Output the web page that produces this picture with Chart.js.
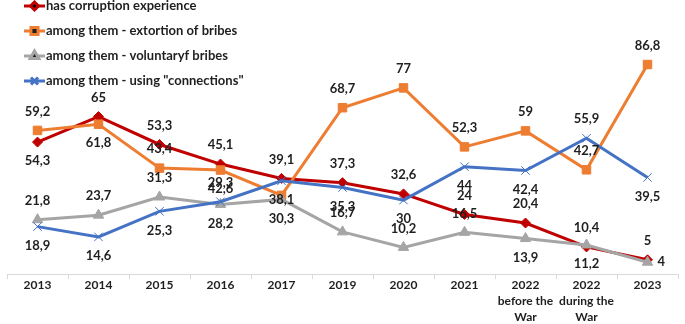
<!DOCTYPE html>
<html>
<head>
<meta charset="utf-8">
<script src="https://cdn.jsdelivr.net/npm/chart.js@4/dist/chart.umd.min.js"></script>
<style>
  body { margin: 0; background: #fff; }
  #wrap { width: 685px; height: 324px; }
</style>
</head>
<body>
<div id="wrap"><canvas id="grafico" width="685" height="324"></canvas></div>
<script>
// categorias e séries
const anos = ['2013', '2014', '2015', '2016', '2017', '2019', '2020', '2021',
  ['2022', 'before the', 'War'], ['2022', 'during the', 'War'], '2023'];

const experiencia = [54.3, 65, 53.3, 45.1, 39.1, 37.3, 32.6, 24, 20.4, 10.4, 5];
const extorsao    = [59.2, 61.8, 43.4, 42.6, 32, 68.7, 77, 52.3, 59, 42.7, 86.8];
const voluntaria  = [21.8, 23.7, 31.3, 28.2, 30.3, 16.7, 10.2, 16.5, 13.9, 11.2, 4];
const conexoes    = [18.9, 14.6, 25.3, 29.3, 38.1, 35.3, 30, 44, 42.4, 55.9, 39.5];

// onde fica cada rótulo: a = acima, b = abaixo, r = direita, '' = escondido
const posExperiencia = ['b','a','a','a','a','a','a','a','a','a','a'];
const posExtorsao    = ['a','b','a','b','','a','a','a','a','a','a'];
const posVoluntaria  = ['a','a','a','b','b','a','a','a','b','b','r'];
const posConexoes    = ['b','b','b','a','b','b','b','b','b','a','b'];

const fonte = 'Lato, "Open Sans", sans-serif';

// rótulos de dados no estilo do Excel
const rotulosPlugin = {
  id: 'rotulos',
  afterDatasetsDraw(chart) {
    const ctx = chart.ctx;
    ctx.save();
    ctx.font = 'bold 13px ' + fonte;
    ctx.fillStyle = '#1f1f1f';
    ctx.textBaseline = 'middle';
    chart.data.datasets.forEach((ds, i) => {
      const meta = chart.getDatasetMeta(i);
      meta.data.forEach((pt, j) => {
        const p = ds.posicoes[j];
        if (!p) return;
        const txt = String(ds.data[j]).replace('.', ',');
        if (p === 'r') {
          ctx.textAlign = 'left';
          ctx.fillText(txt, pt.x + 10, pt.y);
        } else {
          ctx.textAlign = 'center';
          ctx.fillText(txt, pt.x, p === 'a' ? pt.y - 19 : pt.y + 19);
        }
      });
    });
    ctx.restore();
  }
};

// legenda vertical no canto superior esquerdo
const legendaPlugin = {
  id: 'legendaCanto',
  afterDraw(chart) {
    const ctx = chart.ctx;
    ctx.save();
    ctx.font = 'bold 13px ' + fonte;
    ctx.textBaseline = 'middle';
    ctx.textAlign = 'left';
    chart.data.datasets.forEach((ds, i) => {
      const y = 6 + i * 25;
      ctx.strokeStyle = ds.borderColor;
      ctx.lineWidth = 3;
      ctx.beginPath();
      ctx.moveTo(24, y);
      ctx.lineTo(45, y);
      ctx.stroke();
      Chart.helpers.drawPoint(ctx, {
        pointStyle: ds.pointStyle,
        radius: ds.pointRadius - 1,
        borderWidth: ds.pointBorderWidth || 1
      }, 34.5, y);
      ctx.fillStyle = '#1f1f1f';
      ctx.fillText(ds.label, 46, y);
    });
    ctx.restore();
  }
};

function serie(label, data, posicoes, cor, estilo, raio, ordem) {
  return {
    label, data, posicoes,
    borderColor: cor,
    backgroundColor: cor,
    pointBackgroundColor: cor,
    pointBorderColor: cor,
    borderWidth: 3,
    pointStyle: estilo,
    pointRadius: raio,
    pointBorderWidth: 1,
    tension: 0,
    order: ordem
  };
}

new Chart(document.getElementById('grafico'), {
  type: 'line',
  data: {
    labels: anos,
    datasets: [
      serie('has corruption experience', experiencia, posExperiencia, '#C00000', 'rectRot', 5, 4),
      serie('among them - extortion of bribes', extorsao, posExtorsao, '#ED7D31', 'rect', 6, 3),
      serie('among them - voluntaryf bribes', voluntaria, posVoluntaria, '#A5A5A5', 'triangle', 6, 2),
      serie('among them - using "connections"', conexoes, posConexoes, '#4472C4', 'crossRot', 6, 1)
    ]
  },
  options: {
    responsive: false,
    animation: false,
    layout: { padding: { top: 33, left: 0, right: 2, bottom: 1 } },
    plugins: {
      legend: { display: false },
      tooltip: { enabled: false }
    },
    scales: {
      x: {
        offset: true,
        grid: {
          display: true,
          offset: true,
          drawOnChartArea: false,
          drawTicks: true,
          tickLength: 5,
          color: '#d9d9d9'
        },
        border: { color: '#d9d9d9' },
        ticks: {
          color: '#1f1f1f',
          font: { family: fonte, size: 12, weight: 'bold', lineHeight: 1.33 },
          maxRotation: 0,
          autoSkip: false,
          padding: -2
        }
      },
      y: {
        display: false,
        min: -1,
        max: 100
      }
    }
  },
  plugins: [rotulosPlugin, legendaPlugin]
});
</script>
</body>
</html>
